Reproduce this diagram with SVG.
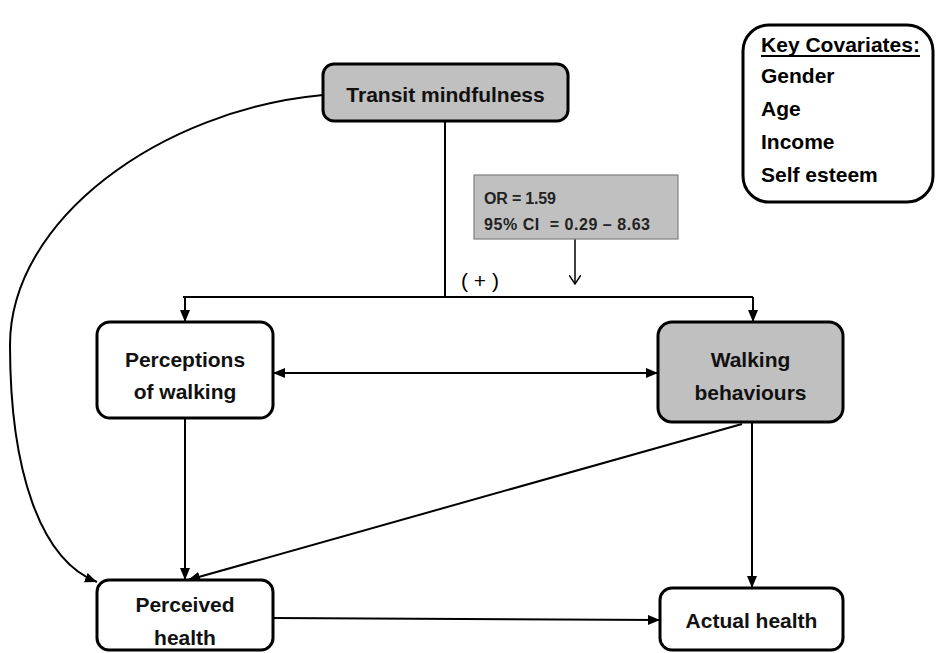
<svg xmlns="http://www.w3.org/2000/svg" width="936" height="653" viewBox="0 0 936 653">
  <style>
    .node { fill: #ffffff; stroke: #000000; stroke-width: 3; }
    .shaded { fill: #c0c0c0; }
    .label { font-family: "Liberation Sans", Arial, sans-serif; font-size: 21px; font-weight: bold; fill: #111111; text-anchor: middle; }
    .key { font-family: "Liberation Sans", Arial, sans-serif; font-size: 21px; font-weight: bold; fill: #000000; }
    .stat { font-family: "Liberation Sans", Arial, sans-serif; font-size: 16px; font-weight: bold; fill: #222222; }
    .link { fill: none; stroke: #000000; stroke-width: 2; }
  </style>
  <defs>
    <marker id="arrow" viewBox="0 0 12 10" refX="12" refY="5" markerWidth="12" markerHeight="10" markerUnits="userSpaceOnUse" orient="auto-start-reverse">
      <path d="M0,0 L12,5 L0,10 Z" fill="#000000"/>
    </marker>
    <marker id="open" viewBox="0 0 10 12" refX="9" refY="6" markerWidth="10" markerHeight="12" markerUnits="userSpaceOnUse" orient="auto">
      <path d="M0,0 L9,6 L0,12" fill="none" stroke="#000000" stroke-width="1.5"/>
    </marker>
  </defs>

  <rect width="936" height="653" fill="#ffffff"/>

  <g id="connectors">
    <!-- split from Transit mindfulness to both walking nodes -->
    <path class="link" d="M445,121 V297"/>
    <path class="link" d="M183,297 H753"/>
    <path class="link" d="M185,297 V322" marker-end="url(#arrow)"/>
    <path class="link" d="M753,297 V322" marker-end="url(#arrow)"/>
    <!-- curved link to perceived health -->
    <path class="link" d="M323,95 C160,110 10,220 10,345 C10,470 40,560 97,582" marker-end="url(#arrow)"/>
    <!-- odds ratio note pointer -->
    <path d="M575,239 V284" fill="none" stroke="#000000" stroke-width="1.5" marker-end="url(#open)"/>
    <!-- two-way link between perceptions and behaviours -->
    <path class="link" d="M273,373 H658" marker-start="url(#arrow)" marker-end="url(#arrow)"/>
    <path class="link" d="M185,418 V580" marker-end="url(#arrow)"/>
    <path class="link" d="M742,424 L188,580" marker-end="url(#arrow)"/>
    <path class="link" d="M752,422 V588" marker-end="url(#arrow)"/>
    <path class="link" d="M273,618 L660,620" marker-end="url(#arrow)"/>
  </g>

  <g id="transit-mindfulness">
    <rect class="node shaded" x="323" y="64" width="245" height="57" rx="11"/>
    <text class="label" x="445.5" y="102">Transit mindfulness</text>
  </g>

  <g id="odds-ratio">
    <rect x="474" y="175" width="204" height="64" fill="#c0c0c0" stroke="#7f7f7f" stroke-width="1.2"/>
    <text class="stat" x="484" y="204" textLength="72">OR = 1.59</text>
    <text class="stat" x="484" y="230" textLength="166" xml:space="preserve">95% CI  = 0.29 – 8.63</text>
  </g>

  <text id="direction" x="461" y="288" font-family="Liberation Sans, Arial, sans-serif" font-size="21" fill="#000000" xml:space="preserve">( + )</text>

  <g id="perceptions-of-walking">
    <rect class="node" x="97" y="322" width="176" height="96" rx="13"/>
    <text class="label" x="185" y="367">Perceptions</text>
    <text class="label" x="185" y="399">of walking</text>
  </g>

  <g id="walking-behaviours">
    <rect class="node shaded" x="658" y="322" width="185" height="100" rx="14"/>
    <text class="label" x="750.5" y="367">Walking</text>
    <text class="label" x="750.5" y="400">behaviours</text>
  </g>

  <g id="perceived-health">
    <rect class="node" x="97" y="580" width="176" height="70" rx="12"/>
    <text class="label" x="185" y="612">Perceived</text>
    <text class="label" x="185" y="645">health</text>
  </g>

  <g id="actual-health">
    <rect class="node" x="660" y="588" width="183" height="62" rx="12"/>
    <text class="label" x="751.5" y="628">Actual health</text>
  </g>

  <g id="key-covariates">
    <rect class="node" x="743" y="25" width="190" height="177" rx="26"/>
    <text class="key" x="761" y="52" textLength="159">Key Covariates:</text>
    <line x1="761" y1="56" x2="920" y2="56" stroke="#000000" stroke-width="1.8"/>
    <text class="key" x="761" y="83">Gender</text>
    <text class="key" x="761" y="116">Age</text>
    <text class="key" x="761" y="149">Income</text>
    <text class="key" x="761" y="182">Self esteem</text>
  </g>
</svg>
